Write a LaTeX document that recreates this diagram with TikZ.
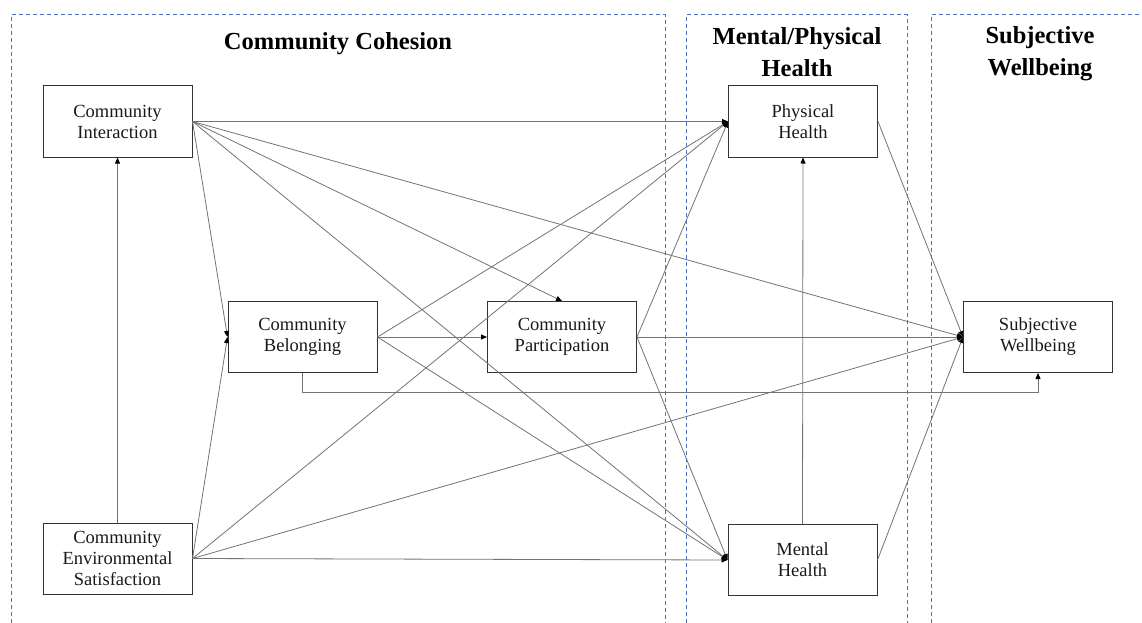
\documentclass[tikz,border=0pt]{standalone}
\usepackage{fontspec}
\setmainfont{Liberation Serif}
\usetikzlibrary{arrows.meta}
\definecolor{zoneblue}{HTML}{4A72C0}
\begin{document}
\begin{tikzpicture}[x=1pt,y=-1pt,
  box/.style={draw=black!80, line width=1pt, minimum width=149pt, minimum height=71pt, align=center, font=\fontsize{18.5}{21}\selectfont, text=black!90, inner sep=0pt},
  link/.style={draw=black!55, line width=0.8pt, -{Triangle[length=6pt,width=5pt,color=black]}},
  zone/.style={draw=zoneblue, line width=1pt, dash pattern=on 4pt off 3pt},
  title/.style={font=\bfseries\fontsize{24.5}{32}\selectfont, align=center, text=black}]
\useasboundingbox (0,0) rectangle (1142,623);
% zones
\draw[zone] (11,623) -- (11,15) -- (665,15) -- (665,623);
\draw[zone] (686,623) -- (686,15) -- (907,15) -- (907,623);
\draw[zone] (931,623) -- (931,15) -- (1142,15);
% titles
\node[title] (t1) at (338,44) {Community Cohesion};
\node[title] (t2) at (797,52) {Mental/Physical\\Health};
\node[title] (t3) at (1040,54) {Subjective\\Wellbeing};
% boxes
\node[box] (CI) at (117.5,121.5) {Community\\Interaction};
\node[box] (ES) at (117.5,558.5) {Community\\Environmental\\Satisfaction};
\node[box] (CB) at (302.5,337) {Community\\Belonging};
\node[box] (CP) at (562,337) {Community\\Participation};
\node[box] (PH) at (803,121.5) {Physical\\Health};
\node[box] (MH) at (802.5,560) {Mental\\Health};
\node[box] (SW) at (1038,337) {Subjective\\Wellbeing};
% connectors
\draw[link] (ES.north) -- (CI.south);
\draw[link] (CI.east) -- (PH.west);
\draw[link] (CI.east) -- (CB.west);
\draw[link] (CI.east) -- (CP.north);
\draw[link] (CI.east) -- (SW.west);
\draw[link] (CI.east) -- (MH.west);
\draw[link] (ES.east) -- (CB.west);
\draw[link] (ES.east) -- (PH.west);
\draw[link] (ES.east) -- (SW.west);
\draw[link] (ES.east) -- (MH.west);
\draw[link] (CB.east) -- (CP.west);
\draw[link] (CB.east) -- (PH.west);
\draw[link] (CB.east) -- (MH.west);
\draw[link] (CB.south) -- ++(0,19) -| (SW.south);
\draw[link] (CP.east) -- (PH.west);
\draw[link] (CP.east) -- (SW.west);
\draw[link] (CP.east) -- (MH.west);
\draw[link] (MH.north) -- (PH.south);
\draw[link] (PH.east) -- (SW.west);
\draw[link] (MH.east) -- (SW.west);
\end{tikzpicture}
\end{document}
